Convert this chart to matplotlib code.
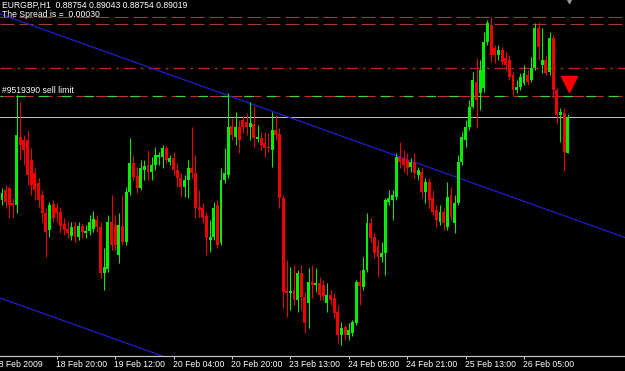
import matplotlib
matplotlib.use('Agg')
import matplotlib.pyplot as plt
import matplotlib.transforms as mtransforms

# ---- data (EURGBP H1) ----
opens = [0.88408, 0.88482, 0.88496, 0.88386, 0.88371, 0.88872, 0.88850, 0.88850, 0.88702, 0.88607,
         0.88533, 0.88445, 0.88312, 0.88187, 0.88379, 0.88349, 0.88320, 0.88231, 0.88195, 0.88143,
         0.88217, 0.88136, 0.88217, 0.88165, 0.88180, 0.88195, 0.88261, 0.88209, 0.87871, 0.87900,
         0.88246, 0.88224, 0.88003, 0.88217, 0.88099, 0.88467, 0.88680, 0.88585, 0.88496, 0.88629,
         0.88666, 0.88614, 0.88666, 0.88725, 0.88725, 0.88791, 0.88688, 0.88717, 0.88629, 0.88570,
         0.88504, 0.88555, 0.88644, 0.88607, 0.88357, 0.88349, 0.88290, 0.88114, 0.88136, 0.88371,
         0.88092, 0.88555, 0.88592, 0.88953, 0.88872, 0.88945, 0.88997, 0.88982, 0.88945, 0.88967,
         0.88857, 0.88864, 0.88828, 0.88798, 0.88776, 0.88923, 0.88894, 0.88423, 0.87738, 0.87724,
         0.87746, 0.87672, 0.87871, 0.87694, 0.87650, 0.87805, 0.87782, 0.87797, 0.87782, 0.87650,
         0.87709, 0.87687, 0.87584, 0.87414, 0.87473, 0.87414, 0.87429, 0.87503, 0.87805, 0.87768,
         0.87893, 0.88239, 0.88136, 0.88069, 0.87989, 0.88018, 0.88393, 0.88408, 0.88430, 0.88725,
         0.88717, 0.88702, 0.88651, 0.88688, 0.88592, 0.88614, 0.88467, 0.88541, 0.88423, 0.88334,
         0.88246, 0.88320, 0.88209, 0.88445, 0.88239, 0.88386, 0.88688, 0.88850, 0.88945, 0.89093,
         0.89277, 0.89196, 0.89232, 0.89571, 0.89696, 0.89527, 0.89475, 0.89512, 0.89453, 0.89438,
         0.89328, 0.89218, 0.89240, 0.89269, 0.89328, 0.89291, 0.89380, 0.89674, 0.89402, 0.89438,
         0.89350, 0.89600, 0.89218, 0.89034, 0.89048, 0.88754]
closes = [0.88460, 0.88393, 0.88371, 0.88371, 0.88886, 0.88813, 0.88776, 0.88592, 0.88518, 0.88482,
          0.88408, 0.88312, 0.88172, 0.88371, 0.88276, 0.88312, 0.88217, 0.88187, 0.88165, 0.88209,
          0.88136, 0.88217, 0.88172, 0.88180, 0.88246, 0.88268, 0.88209, 0.87871, 0.87915, 0.88246,
          0.88077, 0.88077, 0.88224, 0.88099, 0.88467, 0.88680, 0.88577, 0.88496, 0.88644, 0.88658,
          0.88614, 0.88666, 0.88739, 0.88739, 0.88791, 0.88702, 0.88717, 0.88629, 0.88570, 0.88504,
          0.88555, 0.88644, 0.88607, 0.88349, 0.88334, 0.88276, 0.88128, 0.88136, 0.88349, 0.88077,
          0.88555, 0.88607, 0.88945, 0.88886, 0.88945, 0.88850, 0.88945, 0.88945, 0.88975, 0.88864,
          0.88872, 0.88813, 0.88791, 0.88791, 0.88923, 0.88886, 0.88423, 0.87731, 0.87724, 0.87738,
          0.87672, 0.87871, 0.87694, 0.87503, 0.87805, 0.87782, 0.87797, 0.87709, 0.87701, 0.87709,
          0.87672, 0.87576, 0.87414, 0.87466, 0.87414, 0.87451, 0.87510, 0.87805, 0.87775, 0.87893,
          0.88239, 0.88128, 0.88018, 0.87989, 0.88018, 0.88408, 0.88423, 0.88445, 0.88725, 0.88688,
          0.88666, 0.88644, 0.88688, 0.88607, 0.88629, 0.88467, 0.88541, 0.88408, 0.88320, 0.88261,
          0.88320, 0.88239, 0.88430, 0.88283, 0.88386, 0.88688, 0.88872, 0.88945, 0.89093, 0.89291,
          0.89144, 0.89365, 0.89571, 0.89711, 0.89475, 0.89475, 0.89512, 0.89424, 0.89402, 0.89313,
          0.89218, 0.89240, 0.89313, 0.89343, 0.89277, 0.89380, 0.89674, 0.89534, 0.89438, 0.89343,
          0.89600, 0.89218, 0.89034, 0.89056, 0.88761, 0.89019]
highs = [0.88496, 0.88518, 0.88511, 0.88423, 0.89181, 0.89129, 0.88886, 0.88923, 0.88791, 0.88644,
         0.88570, 0.88482, 0.88349, 0.88393, 0.88408, 0.88386, 0.88357, 0.88276, 0.88246, 0.88246,
         0.88246, 0.88246, 0.88239, 0.88224, 0.88298, 0.88327, 0.88298, 0.88246, 0.88055, 0.88298,
         0.88445, 0.88298, 0.88312, 0.88445, 0.88504, 0.88864, 0.88739, 0.88651, 0.88702, 0.88702,
         0.88776, 0.88725, 0.88798, 0.88761, 0.88813, 0.88805, 0.88739, 0.88761, 0.88680, 0.88607,
         0.88592, 0.88702, 0.88945, 0.88739, 0.88482, 0.88386, 0.88320, 0.88261, 0.88393, 0.88408,
         0.88644, 0.88791, 0.89196, 0.89012, 0.89056, 0.88997, 0.89026, 0.89048, 0.89129, 0.89107,
         0.88960, 0.88909, 0.88909, 0.88901, 0.89056, 0.89034, 0.88938, 0.88445, 0.87966, 0.87915,
         0.87930, 0.87893, 0.87930, 0.87731, 0.87908, 0.87930, 0.87908, 0.87841, 0.87819, 0.87797,
         0.87746, 0.87724, 0.87635, 0.87510, 0.87488, 0.87503, 0.87525, 0.87819, 0.87893, 0.87989,
         0.88312, 0.88276, 0.88165, 0.88114, 0.88099, 0.88423, 0.88482, 0.88482, 0.88754, 0.88835,
         0.88776, 0.88754, 0.88717, 0.88754, 0.88651, 0.88644, 0.88570, 0.88570, 0.88482, 0.88371,
         0.88371, 0.88349, 0.88541, 0.88504, 0.88445, 0.88739, 0.88909, 0.88997, 0.89144, 0.89350,
         0.89453, 0.89438, 0.89644, 0.89733, 0.89755, 0.89549, 0.89549, 0.89534, 0.89497, 0.89475,
         0.89350, 0.89291, 0.89343, 0.89402, 0.89365, 0.89461, 0.89711, 0.89718, 0.89674, 0.89475,
         0.89644, 0.89622, 0.89232, 0.89085, 0.89085, 0.89043]
lows = [0.88371, 0.88349, 0.88276, 0.88283, 0.88312, 0.88702, 0.88666, 0.88518, 0.88445, 0.88408,
        0.88357, 0.88246, 0.87989, 0.88136, 0.88246, 0.88246, 0.88165, 0.88150, 0.88128, 0.88114,
        0.88099, 0.88114, 0.88128, 0.88128, 0.88150, 0.88172, 0.88172, 0.87834, 0.87746, 0.87878,
        0.88040, 0.88040, 0.87944, 0.88077, 0.88077, 0.88445, 0.88555, 0.88460, 0.88482, 0.88555,
        0.88555, 0.88555, 0.88629, 0.88666, 0.88644, 0.88680, 0.88666, 0.88592, 0.88504, 0.88430,
        0.88430, 0.88423, 0.88570, 0.88276, 0.88283, 0.88239, 0.88003, 0.88025, 0.88114, 0.88055,
        0.88077, 0.88533, 0.88570, 0.88850, 0.88813, 0.88754, 0.88901, 0.88886, 0.88850, 0.88798,
        0.88835, 0.88776, 0.88725, 0.88761, 0.88651, 0.88850, 0.88349, 0.87613, 0.87547, 0.87598,
        0.87635, 0.87584, 0.87598, 0.87429, 0.87466, 0.87687, 0.87731, 0.87672, 0.87672, 0.87584,
        0.87635, 0.87540, 0.87356, 0.87341, 0.87378, 0.87378, 0.87407, 0.87488, 0.87635, 0.87746,
        0.87878, 0.88099, 0.87981, 0.87841, 0.87952, 0.87856, 0.88371, 0.88261, 0.88408, 0.88644,
        0.88614, 0.88592, 0.88614, 0.88570, 0.88555, 0.88423, 0.88386, 0.88349, 0.88298, 0.88209,
        0.88224, 0.88187, 0.88187, 0.88261, 0.88165, 0.88371, 0.88666, 0.88798, 0.88923, 0.89085,
        0.88938, 0.89070, 0.89203, 0.89549, 0.89424, 0.89416, 0.89438, 0.89402, 0.89365, 0.89291,
        0.89181, 0.89196, 0.89218, 0.89254, 0.89254, 0.89277, 0.89365, 0.89438, 0.89343, 0.89328,
        0.89328, 0.89159, 0.88975, 0.88835, 0.88629, 0.88754]

tick_bars = [-2, 15, 31, 47, 63, 79, 95, 111, 127, 143]
tick_labels = ['18 Feb 2009', '18 Feb 20:00', '19 Feb 12:00', '20 Feb 04:00', '20 Feb 20:00',
               '23 Feb 13:00', '24 Feb 05:00', '24 Feb 21:00', '25 Feb 13:00', '26 Feb 05:00']

symbol = 'EURGBP,H1'
spread = 0.00030
level_upper_1 = 0.89755
level_upper_2 = 0.89703
level_dashdot = 0.89380
sell_limit = 0.89173
order_ticket = '#9519390 sell limit'
arrow_bar = 155.3
arrow_price = 0.89260
trend_bars = [0, 155]
trend_upper = [0.89772, 0.88283]
trend_lower = [0.87682, 0.86193]

# ---- figure ----
W, H = 625, 371
fig = plt.figure(figsize=(W / 100, H / 100), dpi=100, facecolor='black')
ax = fig.add_axes([0, 15 / H, 1, 356 / H])
ax.set_facecolor('black')
n = len(opens)
ax.set_xlim(-0.548, 170.68)
ax.set_ylim(0.87260, 0.89880)

PX = 0.72  # one pixel in points
FONT = 'Liberation Sans'

# horizontal levels
ax.axhline(level_upper_1, color='#9e3b3b', lw=PX, linestyle=(0, (14, 5)), zorder=1)
ax.axhline(level_upper_2, color='#9e3b3b', lw=PX, linestyle=(0, (14, 5)), zorder=1)
ax.axhline(level_dashdot, color='#c42222', lw=PX * 1.3, linestyle=(0, (9, 4, 2, 4)), zorder=1)
ax.axhline(sell_limit, color='#c03030', lw=PX, linestyle=(0, (14, 5)), zorder=1)
ax.axhline(sell_limit, color='#3fd23f', lw=PX * 1.2, linestyle=(6, (8, 11)), zorder=1)
ax.axhline(closes[-1], color='#c0c0c0', lw=PX, zorder=1)

# trend channel
ax.axline((trend_bars[0], trend_upper[0]), (trend_bars[1], trend_upper[1]), color='#2020d0', lw=PX * 1.2, zorder=2)
ax.axline((trend_bars[0], trend_lower[0]), (trend_bars[1], trend_lower[1]), color='#2020d0', lw=PX * 1.2, zorder=2)

# candles
up_c, dn_c = '#00f000', '#f00000'
for i in range(n):
    o, c, h, l = opens[i], closes[i], highs[i], lows[i]
    col = up_c if c >= o else dn_c
    ax.vlines(i, l, h, color=col, lw=PX, zorder=3)
    ax.bar(i, abs(c - o), bottom=min(o, c), width=0.8, color=col, linewidth=0, zorder=4)

# sell arrow
ax.plot([arrow_bar], [arrow_price], marker='v', ms=12.2, color='#ff0000', mec='#ff0000', zorder=5, ls='none')
# chart shift marker at the top
ax.plot([n - 0.6], [1.0], marker='v', ms=5, color='#9a9a9a', transform=ax.get_xaxis_transform(), clip_on=False, ls='none')

# texts
fig.text(2 / W, 1 - 1 / H, f'{symbol}  {opens[-1]:.5f} {highs[-1]:.5f} {lows[-1]:.5f} {closes[-1]:.5f}',
         color='white', fontsize=6.2, family=FONT, ha='left', va='top')
fig.text(2 / W, 1 - 10 / H, f'The Spread is =  {spread:.5f}', color='white', fontsize=6.2, family=FONT,
         ha='left', va='top')
lbl_tr = mtransforms.offset_copy(ax.get_yaxis_transform(), fig=fig, x=0, y=1.5, units='dots')
ax.text(2 / W, sell_limit, order_ticket, transform=mtransforms.offset_copy(
    mtransforms.blended_transform_factory(ax.transAxes, ax.transData), fig=fig, x=0, y=1.5, units='dots'),
    color='white', fontsize=6.2, family=FONT, ha='left', va='bottom')

# axis
for s in ['top', 'left', 'right']:
    ax.spines[s].set_visible(False)
ax.spines['bottom'].set_color('#c8c8c8')
ax.spines['bottom'].set_linewidth(PX * 1.2)
ax.set_yticks([])
ax.set_xticks([b for b in tick_bars if b >= ax.get_xlim()[0]])
ax.set_xticklabels([])
ax.tick_params(axis='x', colors='#c8c8c8', length=3 * PX, width=PX, direction='out')
lab_tr = mtransforms.offset_copy(ax.get_xaxis_transform(), fig=fig, x=-1, y=-4, units='dots')
for b, t in zip(tick_bars, tick_labels):
    ax.text(b, 0, t, transform=lab_tr, color='white', fontsize=6.2, family=FONT,
            ha='left', va='top', clip_on=False)

fig.savefig('out.png', dpi=100, facecolor='black')
